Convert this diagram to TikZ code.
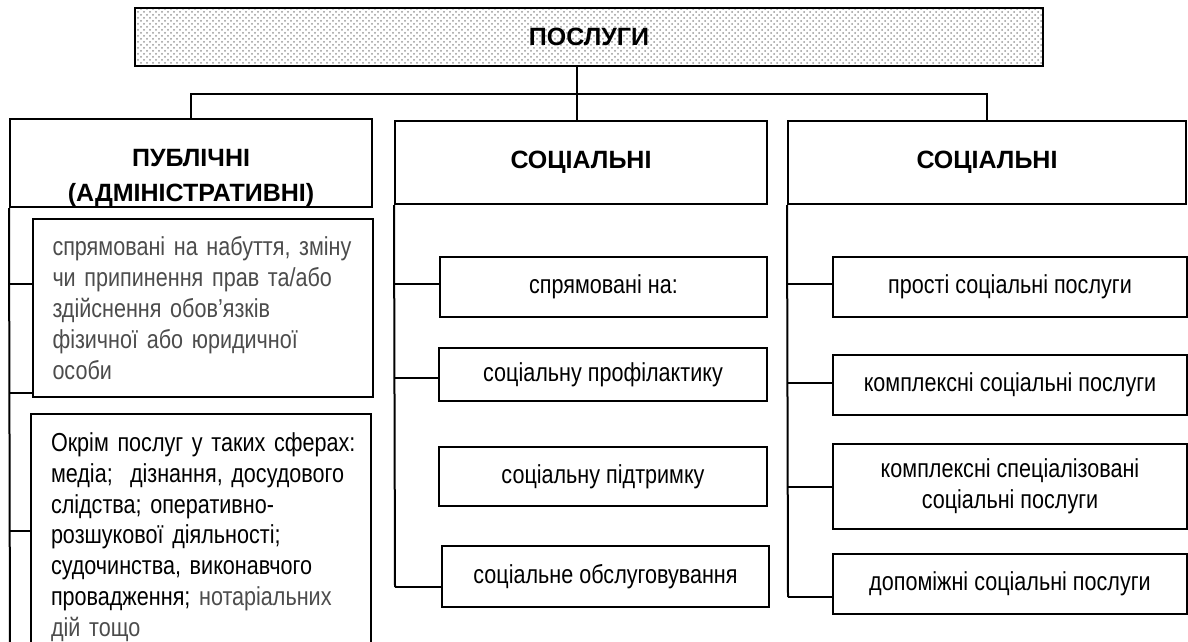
\documentclass[tikz,border=0pt]{standalone}
\usepackage{fontspec}
\setmainfont{Liberation Sans}[FakeStretch=0.83]
\newfontfamily\headfont{Liberation Sans}
\usetikzlibrary{patterns}
\definecolor{txtgray}{gray}{0.3}
\tikzset{
	box/.style={draw,rectangle,align=center,inner sep=0pt},
	root/.style={box,pattern=crosshatch dots,pattern color=gray!80,font=\fontsize{12.5}{15.4}\selectfont\headfont\bfseries},
	head/.style={box,font=\fontsize{12.5}{17.5}\selectfont\headfont\bfseries,minimum height=41.5pt},
	note/.style={box,align=left,text width=158pt,inner xsep=6pt,text=txtgray},
	leaf/.style={box,minimum height=30pt}
}
\begin{document}
\begin{tikzpicture}[x=0.5pt,y=-0.5pt,line width=1pt,every node/.style={font=\fontsize{13}{15.4}\selectfont}]
	\useasboundingbox (0,0) rectangle (1188,642);
	\clip (0,0) rectangle (1188,642);
	\node[root,minimum width=454pt,minimum height=29pt] (pos) at (589,37) {ПОСЛУГИ};
	\node[head,minimum width=181pt] (pub) at (191,163) {\rule{0pt}{24pt}ПУБЛІЧНІ\\(АДМІНІСТРАТИВНІ)};
	\node[head,minimum width=186pt] (soc) at (581,162.5) {СОЦІАЛЬНІ};
	\node[head,minimum width=199pt] (socr) at (987,162.5) {СОЦІАЛЬНІ};
	\coordinate (hub) at (577,94);
	\draw (pos.south -| hub) -- (hub |- soc.north);
	\draw (pub.north) |- (hub) -| (socr.north);
	\node[note,minimum height=89pt] (pa) at (202.5,308) {\hspace*{4pt}спрямовані на набуття, зміну\\\hspace*{4pt}чи припинення прав та/або\\\hspace*{4pt}здійснення обов’язків\\\hspace*{4pt}фізичної або юридичної\\\hspace*{4pt}особи};
	\node[note,text=black,minimum height=123pt] (pb) at (201,537) {\hspace*{4pt}Окрім послуг у таких сферах:\\\hspace*{4pt}медіа;\ \ дізнання, досудового\\\hspace*{4pt}слідства; оперативно-\\\hspace*{4pt}розшукової діяльності;\\\hspace*{4pt}судочинства, виконавчого\\\hspace*{4pt}провадження; \textcolor{txtgray}{нотаріальних}\\\hspace*{4pt}\textcolor{txtgray}{дій тощо}};
	\node[leaf,minimum width=163.5pt] (sp1) at (603.5,287) {спрямовані на:};
	\node[leaf,minimum width=164pt,minimum height=26.5pt] (sp2) at (603,374.5) {соціальну профілактику};
	\node[leaf,minimum width=164pt,minimum height=29.5pt] (sp3) at (603,476.5) {соціальну підтримку};
	\node[leaf,minimum width=163.5pt,minimum height=30.5pt] (sp4) at (605.5,576.5) {соціальне обслуговування};
	\node[leaf,minimum width=177pt] (pr1) at (1010,287) {прості соціальні послуги};
	\node[leaf,minimum width=177pt] (pr2) at (1010,385) {комплексні соціальні послуги};
	\node[leaf,minimum width=177pt,minimum height=42.5pt] (pr3) at (1010,486.5) {комплексні спеціалізовані\\соціальні послуги};
	\node[leaf,minimum width=177pt] (pr4) at (1010,584) {допоміжні соціальні послуги};
	\coordinate (lend) at (10,660);
	\coordinate (mend) at (395,587);
	\coordinate (rend) at (788,597);
	\draw (pub.south west) -- (lend);
	\draw (soc.south west) -- (mend);
	\draw (socr.south west) -- (rend);
	\foreach \y/\b in {284/pa,393/pa,531/pb}{
		\coordinate (t) at (10,\y);
		\draw (t) -- (t -| \b.west);
	}
	\foreach \y/\b in {284/sp1,378/sp2,587/sp4}{
		\coordinate (t) at (395,\y);
		\draw (t) -- (t -| \b.west);
	}
	\foreach \y/\b in {284/pr1,383/pr2,487/pr3,597/pr4}{
		\coordinate (t) at (788,\y);
		\draw (t) -- (t -| \b.west);
	}
\end{tikzpicture}
\end{document}
